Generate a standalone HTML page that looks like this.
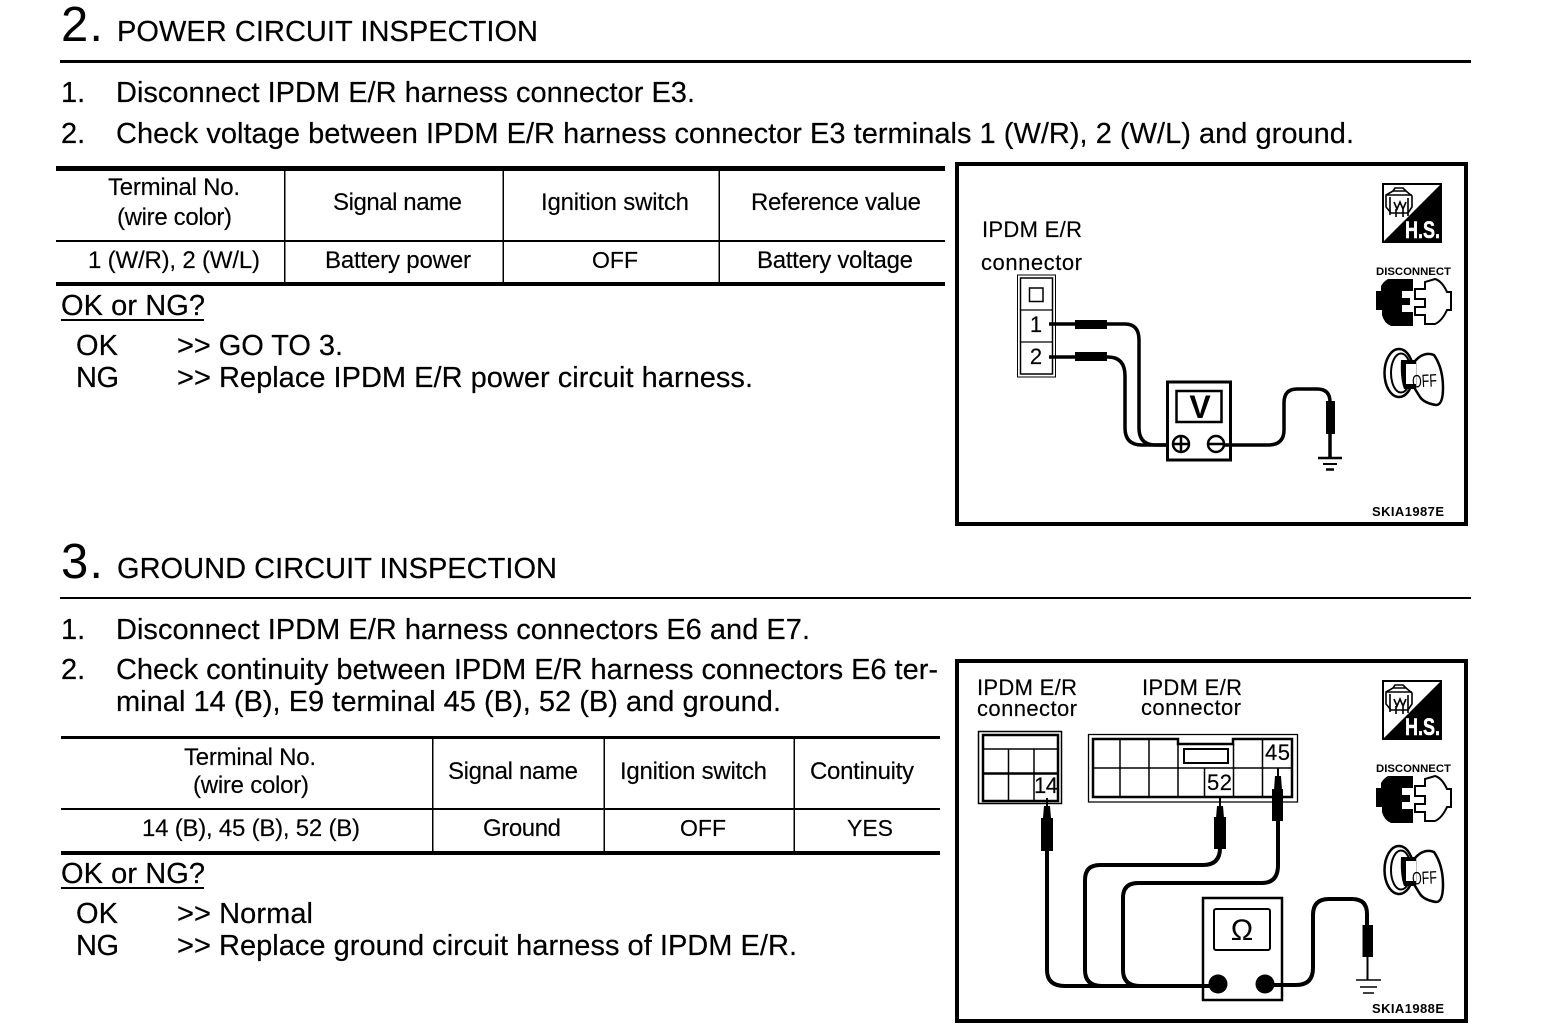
<!DOCTYPE html>
<html><head><meta charset="utf-8"><title>Inspection</title>
<style>
html,body{margin:0;padding:0;background:#fff}
svg{display:block}
text{font-family:"Liberation Sans",sans-serif;fill:#000}
.b{font-size:29px;stroke:#000;stroke-width:.2px}
.t{font-size:24px;stroke:#000;stroke-width:.15px}
.t2{font-size:23px;stroke:#000;stroke-width:.15px}
.d{font-size:22px;stroke:#000;stroke-width:.15px}
.w{fill:none;stroke:#000;stroke-width:4}
.n{fill:none;stroke:#000;stroke-width:1.5}
.m{fill:none;stroke:#000;stroke-width:3.5}
</style></head><body>
<svg width="1568" height="1028" viewBox="0 0 1568 1028" xmlns="http://www.w3.org/2000/svg">
<defs>
<g id="icons">
<rect x="1" y="1" width="58" height="58" fill="#fff" stroke="#000" stroke-width="2"/>
<path d="M60 0V60H0Z" fill="#000"/>
<g fill="none" stroke="#000" stroke-width="1.6">
<path d="M4 12L11 8H24L30 13V24L26 30H9L4 24Z"/><path d="M4 12H30M11 8L13 5H21L24 8"/>
<path d="M8 14V32M12 19L15 26L18 19L21 26L24 19M26 15V33M14 26V34M21 26V34"/>
</g>
<text x="23" y="55" textLength="35" lengthAdjust="spacingAndGlyphs" style="font-size:24px;font-weight:bold;fill:#fff;stroke:#fff;stroke-width:.5px">H.S.</text>
<text x="-6" y="92" textLength="75" lengthAdjust="spacingAndGlyphs" style="font-size:11px;font-weight:bold">DISCONNECT</text>
<path d="M6 96H31V108H20V115H28V122H20V129H31V143H9Q2 140 0 132V127H-6V108H-1V103Q2 98 6 96Z" fill="#000"/>
<path d="M33 106H43V99L53 96Q60 98 65 109H69V127H65Q60 138 53 141H43V132H33V124H43V116H33Z" fill="#fff" stroke="#000" stroke-width="2"/>
<g fill="#fff" stroke="#000">
<ellipse cx="17" cy="190" rx="14.500" ry="24" stroke-width="2.500"/>
<ellipse cx="19" cy="190" rx="10" ry="19.500" stroke-width="2"/>
<path d="M33 178Q42 168 52 172Q61 185 61 205Q61 222 54 222Q42 220 38 214L33 206Z" stroke-width="2.500"/>
<path d="M19 177H34V181H24V201H34V206H22Q18 196 19 177Z" fill="#000" stroke="none"/>
<rect x="24" y="181" width="10" height="20" stroke="none"/>
</g>
<text x="30" y="204" textLength="25" lengthAdjust="spacingAndGlyphs" transform="rotate(-3 42 198)" style="font-size:18px">OFF</text>
</g>
</defs>

<!-- Section 2 -->
<text x="61" y="41" textLength="42" lengthAdjust="spacing" style="font-size:49px">2.</text>
<text x="117" y="41" class="b" textLength="421" lengthAdjust="spacing">POWER CIRCUIT INSPECTION</text>
<rect x="60" y="60" width="1411" height="3"/>
<text x="61" y="102" class="b">1.</text>
<text x="116" y="102" class="b" textLength="579" lengthAdjust="spacing">Disconnect IPDM E/R harness connector E3.</text>
<text x="61" y="143" class="b">2.</text>
<text x="116" y="143" class="b" textLength="1238" lengthAdjust="spacing">Check voltage between IPDM E/R harness connector E3 terminals 1 (W/R), 2 (W/L) and ground.</text>

<rect x="56" y="166" width="889" height="5"/>
<rect x="56" y="240" width="889" height="2"/>
<rect x="56" y="282" width="889" height="4"/>
<rect x="284" y="170" width="1.5" height="113"/><rect x="502.5" y="170" width="1.5" height="113"/><rect x="718.5" y="170" width="1.5" height="113"/>
<text x="108" y="195" class="t" textLength="132" lengthAdjust="spacing">Terminal No.</text>
<text x="117" y="225" class="t" textLength="115" lengthAdjust="spacing">(wire color)</text>
<text x="333" y="210" class="t" textLength="129" lengthAdjust="spacing">Signal name</text>
<text x="541" y="210" class="t" textLength="148" lengthAdjust="spacing">Ignition switch</text>
<text x="751" y="210" class="t" textLength="170" lengthAdjust="spacing">Reference value</text>
<text x="88" y="268" class="t" textLength="172" lengthAdjust="spacing">1 (W/R), 2 (W/L)</text>
<text x="325" y="268" class="t" textLength="146" lengthAdjust="spacing">Battery power</text>
<text x="592" y="268" class="t2" textLength="46" lengthAdjust="spacing">OFF</text>
<text x="757" y="268" class="t" textLength="156" lengthAdjust="spacing">Battery voltage</text>

<text x="61" y="315" class="b" textLength="144" lengthAdjust="spacing">OK or NG?</text>
<rect x="61" y="319" width="143" height="2"/>
<text x="76" y="355" class="b" textLength="42" lengthAdjust="spacing">OK</text>
<text x="177" y="355" class="b" textLength="166" lengthAdjust="spacing">&gt;&gt; GO TO 3.</text>
<text x="76" y="387" class="b" textLength="43" lengthAdjust="spacing">NG</text>
<text x="177" y="387" class="b" textLength="576" lengthAdjust="spacing">&gt;&gt; Replace IPDM E/R power circuit harness.</text>

<!-- Diagram 1 -->
<rect x="957" y="164" width="509" height="360" fill="#fff" stroke="#000" stroke-width="4"/>
<text x="982" y="237" class="d" textLength="100" lengthAdjust="spacing">IPDM E/R</text>
<text x="981" y="270" class="d" textLength="101" lengthAdjust="spacing">connector</text>
<rect x="1017.5" y="275" width="38" height="102" fill="#fff" stroke="#000" stroke-width="1"/>
<rect x="1020.5" y="278" width="32" height="96" fill="none" stroke="#000" stroke-width="1.500"/>
<path d="M1021 310H1052M1021 342H1052" stroke="#000" stroke-width="1.3"/>
<rect x="1029.500" y="288" width="13.500" height="13.500" fill="none" stroke="#000" stroke-width="1.500"/>
<text x="1036" y="332" text-anchor="middle" class="d">1</text>
<text x="1036" y="364" text-anchor="middle" class="d">2</text>
<path class="m" d="M1049 324H1125Q1139 324 1139 340V428Q1139 445 1156 445H1172"/>
<path class="m" d="M1049 357H1108Q1125 357 1125 376V428Q1125 445 1142 445H1172"/>
<rect x="1075" y="320" width="32" height="9"/><rect x="1075" y="352" width="32" height="9"/>
<rect x="1167.5" y="382" width="63" height="78" fill="#fff" stroke="#000" stroke-width="3"/>
<rect x="1176.5" y="391" width="45" height="31" fill="#fff" stroke="#000" stroke-width="2.5"/>
<text x="1200" y="418" text-anchor="middle" style="font-size:32px;font-weight:bold">V</text>
<circle cx="1181" cy="444" r="8" fill="#fff" stroke="#000" stroke-width="2.5"/>
<circle cx="1216" cy="444" r="8" fill="#fff" stroke="#000" stroke-width="2.5"/>
<path d="M1181 437V451M1174 444H1188M1209 444H1223" stroke="#000" stroke-width="2.5"/>
<path class="m" d="M1224 445H1268Q1284 445 1284 430V403Q1284 389 1297 389H1317Q1330 389 1330 402V458"/>
<rect x="1326" y="401" width="9" height="33"/>
<path d="M1318 458H1342" stroke="#000" stroke-width="2.5"/><path d="M1323 464H1337" stroke="#000" stroke-width="2"/><path d="M1326 469.500H1334" stroke="#000" stroke-width="2.5"/>
<use href="#icons" x="1382" y="183"/>
<text x="1372" y="516" textLength="72" lengthAdjust="spacing" style="font-size:13px;font-weight:bold">SKIA1987E</text>

<!-- Section 3 -->
<text x="61" y="578" textLength="42" lengthAdjust="spacing" style="font-size:49px">3.</text>
<text x="117" y="578" class="b" textLength="440" lengthAdjust="spacing">GROUND CIRCUIT INSPECTION</text>
<rect x="60" y="597" width="1411" height="2"/>
<text x="61" y="639" class="b">1.</text>
<text x="116" y="639" class="b" textLength="694" lengthAdjust="spacing">Disconnect IPDM E/R harness connectors E6 and E7.</text>
<text x="61" y="679" class="b">2.</text>
<text x="116" y="679" class="b" textLength="822" lengthAdjust="spacing">Check continuity between IPDM E/R harness connectors E6 ter-</text>
<text x="116" y="711" class="b" textLength="665" lengthAdjust="spacing">minal 14 (B), E9 terminal 45 (B), 52 (B) and ground.</text>

<rect x="61" y="736" width="879" height="3"/>
<rect x="61" y="808" width="879" height="2"/>
<rect x="61" y="851" width="879" height="4"/>
<rect x="432" y="738" width="1.5" height="114"/><rect x="603.5" y="738" width="1.5" height="114"/><rect x="793.5" y="738" width="1.5" height="114"/>
<text x="184" y="765" class="t" textLength="132" lengthAdjust="spacing">Terminal No.</text>
<text x="193" y="793" class="t" textLength="116" lengthAdjust="spacing">(wire color)</text>
<text x="448" y="779" class="t" textLength="130" lengthAdjust="spacing">Signal name</text>
<text x="620" y="779" class="t" textLength="147" lengthAdjust="spacing">Ignition switch</text>
<text x="810" y="779" class="t" textLength="104" lengthAdjust="spacing">Continuity</text>
<text x="142" y="836" class="t" textLength="218" lengthAdjust="spacing">14 (B), 45 (B), 52 (B)</text>
<text x="483" y="836" class="t" textLength="78" lengthAdjust="spacing">Ground</text>
<text x="680" y="836" class="t2" textLength="46" lengthAdjust="spacing">OFF</text>
<text x="847" y="836" class="t2" textLength="46" lengthAdjust="spacing">YES</text>

<text x="61" y="883" class="b" textLength="144" lengthAdjust="spacing">OK or NG?</text>
<rect x="61" y="887" width="143" height="2"/>
<text x="76" y="923" class="b" textLength="42" lengthAdjust="spacing">OK</text>
<text x="177" y="923" class="b" textLength="136" lengthAdjust="spacing">&gt;&gt; Normal</text>
<text x="76" y="955" class="b" textLength="43" lengthAdjust="spacing">NG</text>
<text x="177" y="955" class="b" textLength="620" lengthAdjust="spacing">&gt;&gt; Replace ground circuit harness of IPDM E/R.</text>

<!-- Diagram 2 -->
<rect x="957" y="661" width="509" height="360" fill="#fff" stroke="#000" stroke-width="4"/>
<text x="977" y="695" class="d" textLength="100" lengthAdjust="spacing">IPDM E/R</text>
<text x="977" y="716" class="d" textLength="100" lengthAdjust="spacing">connector</text>
<text x="1142" y="695" class="d" textLength="100" lengthAdjust="spacing">IPDM E/R</text>
<text x="1141" y="715" class="d" textLength="100" lengthAdjust="spacing">connector</text>

<rect x="978.500" y="731.500" width="83" height="72" fill="#fff" stroke="#000" stroke-width="1.5"/>
<rect x="983" y="735" width="75" height="66" fill="none" stroke="#000" stroke-width="2.500"/>
<path d="M983 749H1058" class="n"/><path d="M983 773.500H1058" stroke="#000" stroke-width="2.500"/>
<path d="M1008.500 749V801M1034 749V801" class="n"/>
<text x="1034" y="793" textLength="24" lengthAdjust="spacing" class="d">14</text>

<path d="M1088.500 734.500H1297.500V802H1088.500Z" fill="#fff" stroke="#000" stroke-width="1.300"/>
<path d="M1093 739H1178V744H1233V739H1292V797H1093Z" fill="none" stroke="#000" stroke-width="2.500"/>
<path d="M1093 768H1292" class="n"/>
<path d="M1120 739V797M1149 739V797M1178 744V797M1204.500 768V797M1233.500 744V797M1262.500 739V797" class="n"/>
<rect x="1184" y="749" width="44" height="14" fill="none" stroke="#000" stroke-width="2"/>
<text x="1207" y="790" textLength="25" lengthAdjust="spacing" class="d">52</text>
<text x="1265" y="760" textLength="25" lengthAdjust="spacing" class="d">45</text>

<path class="w" d="M1047 850V970Q1047 986 1065 986H1218"/>
<path class="w" d="M1220 848Q1220 865 1203 865H1100Q1085 865 1085 880V970Q1085 986 1102 986"/>
<path class="w" d="M1278 820V865Q1278 883 1262 883H1138Q1123 883 1123 898V970Q1123 986 1140 986"/>
<path d="M1047 798V820M1220 797V820M1278 768V790" stroke="#000" stroke-width="2"/>
<path d="M1044 806H1050L1051 818H1043ZM1217 806H1223L1224 818H1216ZM1275 776H1281L1282 790H1274Z"/>
<rect x="1041" y="818" width="12" height="33"/>
<rect x="1214" y="817" width="12" height="32"/>
<rect x="1272" y="789" width="11" height="32"/>

<rect x="1203" y="898" width="79" height="102" fill="none" stroke="#000" stroke-width="2.500"/>
<rect x="1214" y="909" width="56" height="41" rx="2" fill="#fff" stroke="#000" stroke-width="2"/>
<text x="1242" y="940" text-anchor="middle" style="font-size:30px">Ω</text>
<circle cx="1218" cy="984" r="9.500"/><circle cx="1265" cy="984" r="9.500"/>
<path class="w" d="M1265 985H1296Q1313 985 1313 968V915Q1313 899 1329 899H1352Q1367 899 1367 914V926"/>
<rect x="1362.500" y="925" width="10.500" height="32"/>
<path d="M1367.500 957V980" stroke="#000" stroke-width="2"/>
<path d="M1356 980H1381M1360 987H1377M1363 993H1374" stroke="#000" stroke-width="1.500"/>
<use href="#icons" x="1382" y="680"/>
<text x="1372" y="1013" textLength="72" lengthAdjust="spacing" style="font-size:13px;font-weight:bold">SKIA1988E</text>
</svg>
</body></html>
